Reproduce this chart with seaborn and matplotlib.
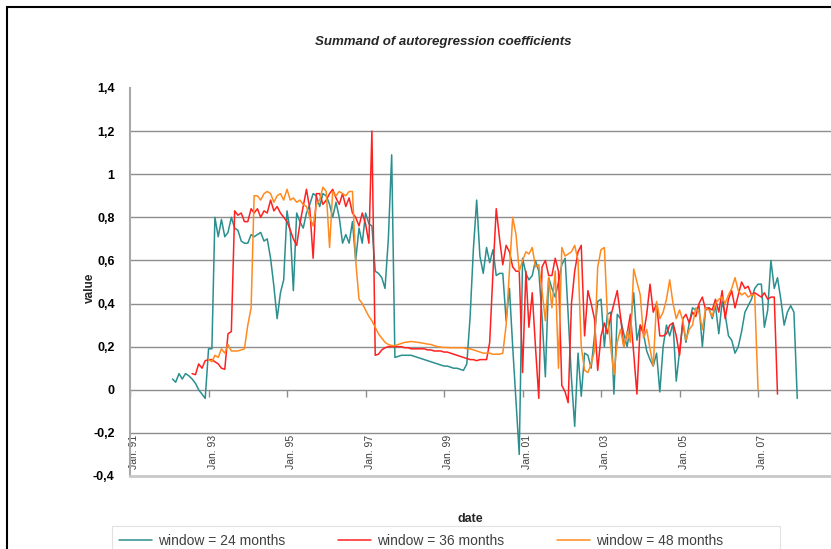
import numpy as np
import pandas as pd
import matplotlib
matplotlib.use("Agg")
import matplotlib.pyplot as plt
import matplotlib.transforms as mtransforms
from matplotlib.lines import Line2D
from matplotlib.patches import Rectangle
import seaborn as sns

# Rolling-window summand of the autoregression coefficients, monthly values
window_labels = ["window = 24 months", "window = 36 months", "window = 48 months"]
window_colors = ["#2b8f8f", "#ff2020", "#ff8a1f"]

start_24 = "1992-02-01"
values_24 = [
    0.05, 0.035, 0.075, 0.05, 0.075, 0.065, 0.05, 0.03, 0.00, -0.02, -0.04,
    0.19, 0.19, 0.80, 0.71, 0.79, 0.71, 0.73, 0.80, 0.75, 0.74, 0.69, 0.68, 0.68,
    0.72, 0.71, 0.72, 0.73, 0.69, 0.70, 0.61, 0.48, 0.33, 0.45, 0.51, 0.83,
    0.73, 0.46, 0.82, 0.78, 0.75, 0.82, 0.86, 0.91, 0.90, 0.85, 0.91, 0.90,
    0.86, 0.80, 0.87, 0.80, 0.68, 0.72, 0.68, 0.78, 0.60, 0.75, 0.68, 0.82,
    0.77, 0.76, 0.55, 0.54, 0.52, 0.47, 0.70, 1.09, 0.15, 0.155, 0.16, 0.16,
    0.16, 0.16, 0.155, 0.15, 0.145, 0.14, 0.135, 0.13, 0.125, 0.12, 0.115, 0.11,
    0.11, 0.105, 0.10, 0.10, 0.095, 0.09, 0.12, 0.34, 0.65, 0.88, 0.62, 0.54,
    0.66, 0.59, 0.65, 0.53, 0.54, 0.54, 0.32, 0.47, 0.20, -0.05, -0.30, 0.61,
    0.54, 0.51, 0.53, 0.60, 0.55, 0.34, 0.06, 0.52, 0.47, 0.43, 0.50, 0.58,
    0.61, 0.35, 0.05, -0.17, 0.17, -0.03, 0.17, 0.16, 0.10, 0.25, 0.41, 0.42,
    0.20, 0.35, 0.36, -0.02, 0.35, 0.33, 0.26, 0.20, 0.30, 0.45, 0.23, 0.30,
    0.26, 0.18, 0.14, 0.11, 0.17, -0.01, 0.20, 0.30, 0.25, 0.31, 0.04, 0.18,
    0.31, 0.22, 0.31, 0.38, 0.37, 0.39, 0.20, 0.38, 0.38, 0.33, 0.39, 0.26,
    0.41, 0.35, 0.25, 0.23, 0.17, 0.20, 0.27, 0.36, 0.39, 0.42, 0.47, 0.49,
    0.49, 0.29, 0.37, 0.60, 0.47, 0.52, 0.42, 0.30, 0.36, 0.39, 0.36, -0.04,
]

start_36 = "1992-08-01"
values_36 = [
    0.075, 0.07, 0.12, 0.10, 0.135, 0.14, 0.14, 0.13, 0.12, 0.10, 0.095, 0.26,
    0.27, 0.83, 0.81, 0.82, 0.78, 0.78, 0.84, 0.82, 0.84, 0.80, 0.83, 0.82,
    0.88, 0.83, 0.85, 0.82, 0.80, 0.78, 0.74, 0.70, 0.67, 0.77, 0.85, 0.93,
    0.84, 0.61, 0.91, 0.91, 0.86, 0.88, 0.91, 0.93, 0.89, 0.86, 0.91, 0.85,
    0.89, 0.82, 0.80, 0.76, 0.82, 0.77, 0.68, 1.20, 0.16, 0.165, 0.185, 0.195,
    0.20, 0.20, 0.20, 0.20, 0.20, 0.195, 0.195, 0.19, 0.19, 0.19, 0.19, 0.19,
    0.185, 0.185, 0.18, 0.18, 0.18, 0.175, 0.175, 0.17, 0.165, 0.16, 0.155, 0.15,
    0.145, 0.14, 0.14, 0.135, 0.14, 0.14, 0.14, 0.22, 0.55, 0.84, 0.70, 0.58,
    0.67, 0.64, 0.57, 0.55, 0.55, 0.08, 0.55, 0.29, 0.45, 0.20, -0.04, 0.57,
    0.60, 0.53, 0.53, 0.61, 0.55, 0.02, -0.01, -0.06, 0.40, 0.55, 0.64, 0.67,
    0.25, 0.46, 0.40, 0.33, 0.09, 0.25, 0.31, 0.26, 0.34, 0.40, 0.46, 0.34,
    0.20, 0.26, 0.35, 0.17, -0.02, 0.30, 0.26, 0.35, 0.49, 0.36, 0.40, 0.25,
    0.25, 0.26, 0.30, 0.31, 0.25, 0.16, 0.33, 0.35, 0.31, 0.36, 0.34, 0.40,
    0.43, 0.37, 0.38, 0.37, 0.42, 0.36, 0.46, 0.33, 0.42, 0.46, 0.38, 0.44,
    0.50, 0.47, 0.48, 0.44, 0.45, 0.44, 0.43, 0.45, 0.42, 0.43, 0.43, -0.02,
]

start_48 = "1993-01-01"
values_48 = [
    0.14, 0.13, 0.16, 0.15, 0.19, 0.17, 0.21, 0.18, 0.18, 0.18, 0.185, 0.19,
    0.30, 0.38, 0.90, 0.90, 0.88, 0.91, 0.92, 0.91, 0.87, 0.90, 0.91, 0.88,
    0.93, 0.88, 0.89, 0.87, 0.88, 0.86, 0.85, 0.80, 0.76, 0.86, 0.88, 0.94,
    0.92, 0.66, 0.92, 0.90, 0.92, 0.91, 0.90, 0.92, 0.92, 0.60, 0.42, 0.40,
    0.37, 0.34, 0.32, 0.29, 0.26, 0.24, 0.22, 0.21, 0.205, 0.205, 0.21, 0.215,
    0.22, 0.222, 0.224, 0.222, 0.22, 0.218, 0.215, 0.212, 0.21, 0.205, 0.20, 0.198,
    0.196, 0.196, 0.195, 0.195, 0.195, 0.195, 0.195, 0.19, 0.19, 0.185, 0.18, 0.175,
    0.17, 0.17, 0.17, 0.165, 0.165, 0.165, 0.17, 0.30, 0.55, 0.80, 0.72, 0.55,
    0.60, 0.64, 0.63, 0.66, 0.57, 0.58, 0.46, 0.32, 0.52, 0.38, 0.55, 0.10,
    0.66, 0.62, 0.63, 0.64, 0.67, 0.60, 0.20, 0.09, 0.08, 0.12, 0.18, 0.57,
    0.65, 0.66, 0.35, 0.20, 0.07, 0.22, 0.28, 0.20, 0.27, 0.22, 0.56, 0.50,
    0.44, 0.24, 0.28, 0.19, 0.11, 0.41, 0.33, 0.36, 0.42, 0.51, 0.40, 0.33,
    0.37, 0.32, 0.23, 0.28, 0.30, 0.38, 0.36, 0.28, 0.38, 0.37, 0.34, 0.40,
    0.42, 0.43, 0.40, 0.44, 0.47, 0.52, 0.46, 0.44, 0.45, 0.43, 0.44, 0.44,
    0.0,
]

y_ticks = [-0.4, -0.2, 0.0, 0.2, 0.4, 0.6, 0.8, 1.0, 1.2, 1.4]
x_tick_dates = pd.date_range("1991-01-01", "2007-01-01", freq="24MS")
x_tick_labels = [f"Jan. {d:%y}" for d in x_tick_dates]


def series_frame(start, values, label):
    dates = pd.date_range(start, periods=len(values), freq="MS")
    return pd.DataFrame({"date": dates, "value": values, "window": label})


df = pd.concat(
    [
        series_frame(start_24, values_24, window_labels[0]),
        series_frame(start_36, values_36, window_labels[1]),
        series_frame(start_48, values_48, window_labels[2]),
    ],
    ignore_index=True,
)

sns.set_theme(style="white")
plt.rcParams["font.family"] = ["Liberation Sans", "DejaVu Sans"]

W, H = 831, 549
fig = plt.figure(figsize=(W / 100, H / 100), dpi=100)
ax = fig.add_axes([130 / W, 1 - 476 / H, 701 / W, 388 / H])

palette = dict(zip(window_labels, window_colors))
sns.lineplot(
    data=df, x="date", y="value", hue="window", palette=palette,
    estimator=None, sort=False, linewidth=1.1, legend=False, ax=ax,
)

ax.set_xlim(pd.Timestamp("1991-01-01"), pd.Timestamp("2008-11-10"))
ax.set_ylim(-0.4, 1.4)

# value axis: comma decimals, bold labels
def fmt(v):
    s = f"{round(v, 1):g}"
    return s.replace(".", ",")

ax.set_yticks(y_ticks)
ax.set_yticklabels([fmt(v) for v in y_ticks], fontsize=9, fontweight="bold", color="black")
ax.tick_params(axis="y", length=0, pad=11)
ax.yaxis.grid(True, color="#8e8e8e", linewidth=1.0)
ax.xaxis.grid(False)
for gl, v in zip(ax.yaxis.get_gridlines(), y_ticks):
    if v in (-0.4, 1.4):
        gl.set_visible(False)

# date axis: rotated labels sitting just under the -0.2 line
ax.set_xticks(x_tick_dates)
ax.set_xticklabels(x_tick_labels, rotation=90, fontsize=7.5, color="#404040")
ax.tick_params(axis="x", length=0, pad=-29.5)
shift = mtransforms.ScaledTranslation(4 / 100, 0, fig.dpi_scale_trans)
for lbl in ax.get_xticklabels():
    lbl.set_transform(lbl.get_transform() + shift)
ax.vlines(x_tick_dates, -0.035, 0, color="#8e8e8e", linewidth=1.0)

for side in ("top", "right"):
    ax.spines[side].set_visible(False)
ax.spines["left"].set_color("#a8a8a8")
ax.spines["left"].set_linewidth(1.5)
ax.spines["bottom"].set_color("#c8c8c8")
ax.spines["bottom"].set_linewidth(2.0)

ax.set_ylabel("value", fontsize=8.5, fontweight="bold")
ax.yaxis.set_label_coords((96 - 130) / 701, (476 - 288) / 388)
ax.set_xlabel("date", fontsize=9, fontweight="bold")
ax.xaxis.set_label_coords((470 - 130) / 701, (476 - 513) / 388)

fig.text(443 / W, 1 - 42 / H, "Summand of autoregression coefficients",
         ha="center", va="center", fontsize=9.5, fontweight="bold", style="italic")

handles = [Line2D([], [], color=c, linewidth=1.1) for c in window_colors]
fig.legend(
    handles, window_labels, loc="center left",
    bbox_to_anchor=(118.6 / W, 1 - 541 / H), ncol=3, frameon=False,
    fontsize=10, handlelength=2.4, handletextpad=0.43, columnspacing=3.8,
    borderpad=0, borderaxespad=0, labelcolor="#404040",
)

# legend box and outer chart frame
fig.add_artist(Rectangle((112 / W, -0.05), (780 - 112) / W, (1 - 526 / H) + 0.05,
                         transform=fig.transFigure, fill=False,
                         edgecolor="#e2e2e2", linewidth=0.8))
fig.add_artist(Rectangle((7 / W, -0.05), 1.1, (1 - 7 / H) + 0.05,
                         transform=fig.transFigure, fill=False,
                         edgecolor="black", linewidth=1.5))

fig.savefig("out.png", dpi=100)
